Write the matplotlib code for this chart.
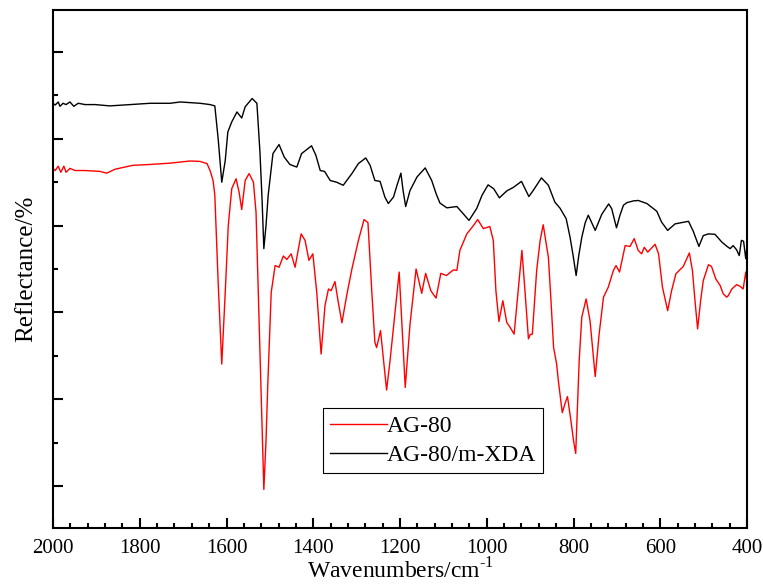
import matplotlib.pyplot as plt
from matplotlib.ticker import MultipleLocator

plt.rcParams['font.family'] = ['Liberation Serif', 'DejaVu Serif']
plt.rcParams['mathtext.fontset'] = 'custom'
plt.rcParams['mathtext.rm'] = 'Liberation Serif'

# AG-80/m-XDA (black)
wn_xda = [2000, 1995, 1988, 1984, 1977, 1970, 1961, 1952, 1942, 1926, 1903, 1869, 1822, 1776,
          1730, 1707, 1661, 1638, 1627, 1619, 1611, 1603, 1597, 1588, 1576, 1565, 1557, 1541,
          1530, 1523, 1518, 1514, 1509, 1504, 1493, 1479, 1467, 1454, 1438, 1427, 1404, 1394,
          1384, 1374, 1361, 1346, 1331, 1311, 1296, 1279, 1269, 1258, 1246, 1235, 1227, 1215,
          1207, 1198, 1193, 1187, 1177, 1161, 1142, 1127, 1117, 1108, 1092, 1069, 1054, 1041,
          1023, 1011, 997, 984, 971, 954, 939, 920, 903, 893, 874, 858, 843, 831, 817, 808,
          801, 794, 788, 781, 773, 766, 750, 735, 719, 712, 701, 693, 685, 677, 662, 651, 631,
          608, 597, 583, 566, 535, 524, 511, 501, 489, 474, 458, 446, 439, 432, 424, 418, 413,
          408, 403, 401]
r_xda = [88.2, 87.8, 88.5, 87.5, 88.2, 87.9, 88.5, 87.5, 88.2, 87.9, 87.9, 87.6, 87.9, 88.2,
         88.2, 88.5, 88.2, 87.9, 87.6, 79.7, 70.0, 75.0, 81.6, 83.9, 86.2, 84.8, 87.4, 89.3,
         88.2, 77.0, 65.8, 54.7, 60.0, 67.0, 76.6, 78.7, 75.8, 74.1, 73.5, 76.6, 78.4, 76.2,
         72.7, 72.5, 70.4, 70.0, 69.3, 72.0, 74.3, 75.6, 73.9, 70.4, 70.2, 66.6, 65.1, 66.6,
         69.3, 72.1, 68.1, 64.4, 68.1, 71.2, 73.3, 70.4, 67.4, 65.2, 64.1, 64.4, 62.7, 61.2,
         64.0, 67.0, 69.4, 68.5, 66.4, 68.0, 68.8, 70.2, 66.7, 68.1, 71.0, 69.3, 65.4, 64.0,
         61.6, 57.3, 53.1, 48.5, 53.1, 57.3, 60.7, 62.4, 58.9, 62.6, 65.0, 63.9, 59.5, 62.4,
         64.7, 65.3, 65.7, 65.8, 65.1, 63.3, 60.8, 58.9, 60.4, 61.0, 58.7, 55.2, 57.7, 58.1,
         58.0, 56.2, 55.2, 54.7, 55.4, 54.4, 53.1, 56.6, 56.4, 52.4, 54.3]

# AG-80 (red)
wn_ag = [1999, 1995, 1988, 1982, 1975, 1970, 1961, 1949, 1926, 1892, 1876, 1857, 1816, 1776,
         1730, 1684, 1661, 1645, 1638, 1631, 1627, 1619, 1611, 1603, 1596, 1588, 1578, 1571,
         1565, 1557, 1548, 1538, 1532, 1523, 1518, 1514, 1509, 1505, 1497, 1488, 1479, 1469,
         1461, 1451, 1442, 1428, 1419, 1410, 1401, 1392, 1382, 1373, 1365, 1359, 1350, 1343,
         1334, 1323, 1311, 1296, 1283, 1274, 1265, 1258, 1254, 1245, 1238, 1231, 1223, 1215,
         1202, 1195, 1188, 1177, 1163, 1150, 1141, 1129, 1117, 1106, 1093, 1077, 1069, 1062,
         1046, 1031, 1021, 1008, 993, 985, 979, 972, 963, 954, 946, 937, 929, 919, 912, 904,
         900, 895, 885, 877, 870, 858, 852, 846, 839, 835, 826, 819, 814, 806, 800, 795, 787,
         781, 771, 762, 750, 741, 731, 720, 708, 702, 694, 681, 670, 660, 651, 643, 637, 629,
         612, 604, 595, 583, 574, 564, 547, 539, 533, 526, 520, 514, 507, 501, 489, 482, 472,
         462, 455, 447, 443, 435, 424, 416, 409, 403, 401]
r_ag = [73.1, 72.7, 73.7, 72.3, 73.7, 72.3, 73.2, 72.7, 72.7, 72.5, 72.1, 73.0, 73.9, 74.1,
        74.4, 74.9, 74.8, 74.3, 72.7, 70.4, 67.0, 46.2, 28.1, 44.6, 60.0, 68.5, 70.8, 67.7,
        63.7, 70.4, 72.0, 70.0, 63.1, 30.8, 12.7, -0.8, 10.4, 23.1, 44.6, 50.8, 50.4, 53.0,
        52.2, 53.5, 50.4, 58.1, 56.6, 52.0, 53.5, 44.6, 30.4, 41.6, 45.4, 45.0, 47.1, 42.7,
        37.6, 43.9, 50.0, 56.6, 61.4, 60.7, 44.6, 33.1, 31.9, 35.8, 28.9, 22.1, 28.9, 36.6,
        49.3, 35.8, 22.7, 37.3, 50.0, 44.4, 49.0, 45.0, 43.3, 49.0, 48.5, 49.8, 49.7, 54.3,
        58.1, 60.0, 61.4, 59.3, 59.8, 56.6, 45.0, 37.9, 42.7, 37.7, 36.5, 35.0, 43.5, 54.3,
        45.0, 33.9, 34.9, 35.0, 49.7, 56.6, 60.2, 52.7, 42.7, 31.9, 28.1, 24.2, 16.9, 19.2,
        20.6, 15.0, 10.4, 7.5, 28.9, 38.9, 43.1, 38.1, 25.2, 35.0, 43.5, 45.8, 49.7, 50.8,
        49.3, 55.4, 55.2, 57.0, 54.3, 53.5, 55.0, 53.9, 55.7, 53.5, 45.8, 40.4, 45.0, 48.9,
        50.6, 52.4, 53.7, 49.7, 42.7, 36.2, 42.7, 47.3, 51.0, 50.6, 47.7, 46.2, 44.3, 43.5,
        43.9, 45.4, 46.4, 46.0, 45.4, 49.3, 47.3]

fig = plt.figure(figsize=(7.63, 5.85), dpi=100)
ax = fig.add_axes([0.0695, 0.0974, 0.9096, 0.8855])

ax.plot(wn_ag, r_ag, color='red', lw=1.0, label='AG-80', solid_joinstyle='round')
ax.plot(wn_xda, r_xda, color='black', lw=1.0, label='AG-80/m-XDA', solid_joinstyle='round')

ax.set_xlim(2000, 400)
ax.set_ylim(-9.7, 109.7)
ax.xaxis.set_major_locator(MultipleLocator(200))
ax.xaxis.set_minor_locator(MultipleLocator(40))
ax.yaxis.set_major_locator(MultipleLocator(20))
ax.yaxis.set_minor_locator(MultipleLocator(10))
ax.tick_params(which='both', direction='in', top=False, right=False, width=1.5)
ax.tick_params(which='major', length=7, labelsize=15, pad=8)
ax.tick_params(which='minor', length=3.5)
ax.tick_params(axis='y', labelleft=False)
for s in ax.spines.values():
    s.set_linewidth(1.5)

ax.set_xlabel('Wavenumbers/cm$^{\\text{-1}}$', fontsize=17, labelpad=0)
ax.set_ylabel('Reflectance/%', fontsize=18, labelpad=8)

leg = ax.legend(loc='lower left', bbox_to_anchor=(0.389, 0.106), borderaxespad=0,
                fontsize=17, fancybox=False, edgecolor='black', framealpha=1,
                handlelength=2.4, handletextpad=0, labelspacing=0.32,
                borderpad=0.3)
leg.get_frame().set_linewidth(0.8)

fig.savefig('out.png', dpi=100)
